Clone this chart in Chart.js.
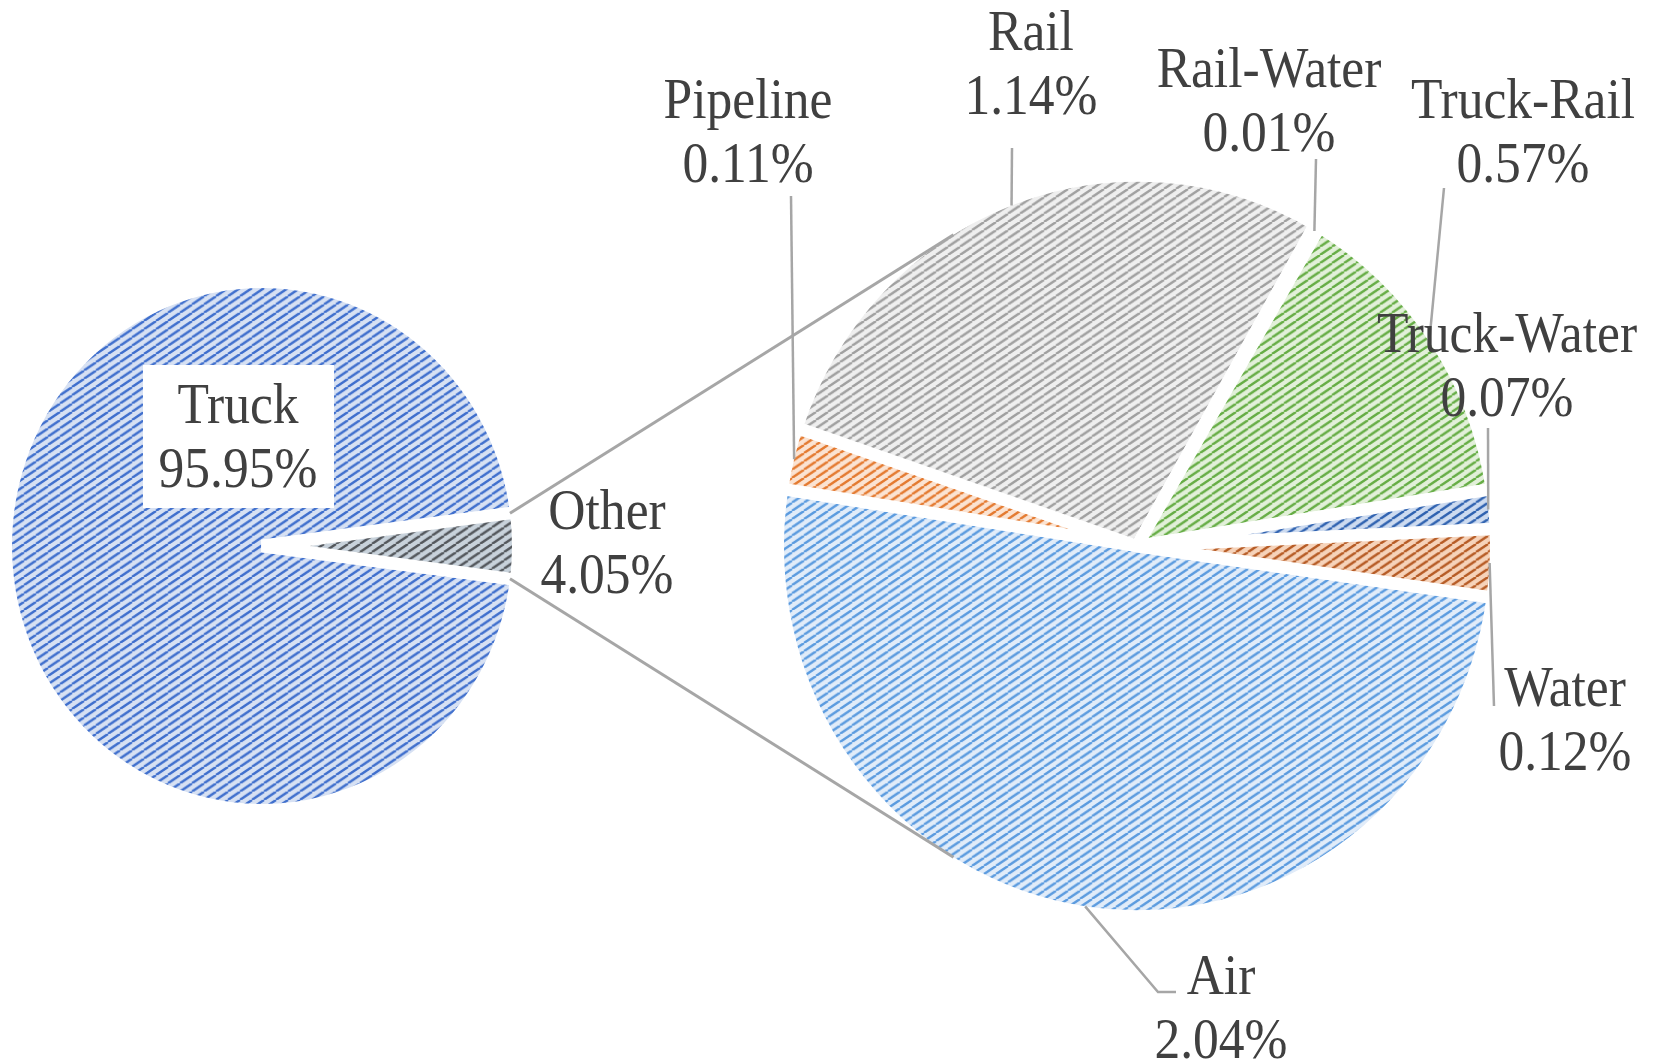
<!DOCTYPE html>
<html>
<head>
<meta charset="utf-8">
<script src="https://cdn.jsdelivr.net/npm/chart.js@4.4.1/dist/chart.umd.min.js"></script>
<style>
  html, body { margin: 0; padding: 0; background: #ffffff; }
  #wrap { position: relative; width: 1658px; height: 1064px; overflow: hidden; }
  canvas { position: absolute; left: 0; top: 0; }
</style>
</head>
<body>
<div id="wrap">
  <canvas id="mainPie" width="1658" height="1064"></canvas>
  <canvas id="otherPie" width="1658" height="1064"></canvas>
</div>
<script>
// ---------------- DATA ----------------
const mainCategories = ['Truck', 'Other'];
const mainValues = [95.95, 4.05];
const otherCategories = ['Air', 'Pipeline', 'Rail', 'Rail-Water', 'Truck-Rail', 'Truck-Water', 'Water'];
const otherValues = [2.04, 0.11, 1.14, 0.01, 0.57, 0.07, 0.12];

// ---------------- STYLE ----------------
const mainColors = [['#d7e1f3', '#3f6fcd'], ['#c8d2db', '#53575c']];
const otherColors = [
  ['#e1ecf9', '#5b9bdf'],  // Air
  ['#fbe3d2', '#e47a30'],  // Pipeline
  ['#efefef', '#a0a0a0'],  // Rail
  ['#fff0c2', '#e6ac00'],  // Rail-Water
  ['#e2f0d9', '#66ad45'],  // Truck-Rail
  ['#cddbf0', '#2f62b0'],  // Truck-Water
  ['#f6d3ba', '#b65b25']   // Water
];
const TEXT_COLOR = '#404040';
const LINE_COLOR = '#a6a6a6';
const FONT = '56px "Liberation Serif", "Times New Roman", serif';
const SCALE_X = 0.92;
const LINE_H = 64;
const BORDER = 12;
const SY = 1.032;              // slight vertical stretch of the pies

// layout (pixels)
const W = 1658, H = 1064;
const mainCenter = [262, 546], mainR = 250;
const otherCenter = [1137, 546], otherR = 353;
// label anchors: [centerX, firstBaseline]
const mainLabelPos = [[238, 423], [607, 529]];
const otherLabelPos = [[1221, 994], [748, 118], [1031, 50], [1269, 87], [1523, 118], [1507, 352], [1565, 706]];
// leader line end points (from slice edge towards the label)
const otherLeaderEnds = [
  [[1158, 992], [1176, 992]],
  [[791, 196]],
  [[1012, 148]],
  [[1316, 159]],
  [[1444, 188]],
  [[1488, 428]],
  [[1494, 706]]
];

function makePattern(bg, fg) {
  const w = 12, h = 8;
  const c = document.createElement('canvas');
  c.width = w; c.height = h;
  const x = c.getContext('2d');
  x.fillStyle = bg; x.fillRect(0, 0, w, h);
  x.strokeStyle = fg; x.lineWidth = 2.3;
  for (const dx of [-w, 0, w]) {
    x.beginPath(); x.moveTo(dx, h); x.lineTo(dx + w, 0); x.stroke();
  }
  return x.createPattern(c, 'repeat');
}

function drawLabel(ctx, lines, cx, baseline) {
  ctx.save();
  ctx.font = FONT;
  ctx.fillStyle = TEXT_COLOR;
  ctx.textAlign = 'center';
  ctx.textBaseline = 'alphabetic';
  lines.forEach((t, i) => {
    ctx.save();
    ctx.translate(cx, baseline + i * LINE_H);
    ctx.scale(SCALE_X, 1);
    ctx.fillText(t, 0, 0);
    ctx.restore();
  });
  ctx.restore();
}

function stretchPlugin(id) {
  return {
    id: id,
    beforeDatasetsDraw(chart) {
      const a = chart.getDatasetMeta(0).data[0];
      chart.ctx.save();
      chart.ctx.translate(a.x, a.y);
      chart.ctx.scale(1, SY);
      chart.ctx.translate(-a.x, -a.y);
    },
    afterDatasetsDraw(chart) {
      chart.ctx.restore();
    }
  };
}

// point on the (stretched) rim of an arc element
function rimPoint(a, ang, r) {
  return [a.x + r * Math.cos(ang), a.y + SY * r * Math.sin(ang)];
}

const pct = v => v.toFixed(2) + '%';
const sum = a => a.reduce((s, v) => s + v, 0);

// ---------------- MAIN PIE ----------------
const mainPie = new Chart(document.getElementById('mainPie'), {
  type: 'pie',
  data: {
    labels: mainCategories,
    datasets: [{
      data: mainValues,
      backgroundColor: mainColors.map(c => makePattern(c[0], c[1])),
      borderColor: '#ffffff',
      borderWidth: BORDER
    }]
  },
  options: {
    responsive: false,
    devicePixelRatio: 1,
    animation: false,
    events: [],
    radius: mainR + BORDER / 2,
    rotation: 90 + (mainValues[1] / sum(mainValues)) * 180,
    layout: { padding: { left: 0, top: 2 * mainCenter[1] - H, right: W - 2 * mainCenter[0], bottom: 0 } },
    plugins: { legend: { display: false }, tooltip: { enabled: false } }
  },
  plugins: [stretchPlugin('stretchMain'), {
    id: 'mainLabels',
    afterDatasetsDraw(chart) {
      const ctx = chart.ctx;
      const [tx, ty] = mainLabelPos[0];
      ctx.save();
      ctx.fillStyle = '#ffffff';
      ctx.fillRect(tx - 95, ty - 58, 191, 143);
      ctx.restore();
      mainCategories.forEach((name, i) => {
        drawLabel(ctx, [name, pct(mainValues[i])], mainLabelPos[i][0], mainLabelPos[i][1]);
      });
    }
  }]
});

// ---------------- SECONDARY PIE ----------------
const otherPie = new Chart(document.getElementById('otherPie'), {
  type: 'pie',
  data: {
    labels: otherCategories,
    datasets: [{
      data: otherValues,
      backgroundColor: otherColors.map(c => makePattern(c[0], c[1])),
      borderColor: '#ffffff',
      borderWidth: BORDER
    }]
  },
  options: {
    responsive: false,
    devicePixelRatio: 1,
    animation: false,
    events: [],
    radius: otherR + BORDER / 2,
    rotation: 98,
    layout: { padding: { left: 2 * otherCenter[0] - W, top: 2 * otherCenter[1] - H, right: 0, bottom: 0 } },
    plugins: { legend: { display: false }, tooltip: { enabled: false } }
  },
  plugins: [stretchPlugin('stretchOther'), {
    id: 'connectorsAndLabels',
    afterDatasetsDraw(chart) {
      const ctx = chart.ctx;
      const arcs = chart.getDatasetMeta(0).data;

      // connector lines from the "Other" slice to the secondary pie (tangents)
      const other = mainPie.getDatasetMeta(0).data[1];
      const R1 = other.outerRadius - BORDER / 2;
      const a0 = arcs[0];
      const cx = a0.x, cy = a0.y, r = a0.outerRadius - BORDER / 2;
      const corners = [other.startAngle, other.endAngle].map(ang => rimPoint(other, ang, R1));
      ctx.save();
      ctx.strokeStyle = LINE_COLOR;
      ctx.lineWidth = 3;
      corners.forEach((p, k) => {
        const dx = p[0] - cx, dy = (p[1] - cy) / SY;
        const d = Math.hypot(dx, dy);
        const phi = Math.atan2(dy, dx);
        const alpha = Math.acos(r / d);
        const ang = k === 0 ? phi + alpha : phi - alpha;
        const t = rimPoint(a0, ang, r);
        ctx.beginPath();
        ctx.moveTo(p[0], p[1]);
        ctx.lineTo(t[0], t[1]);
        ctx.stroke();
      });

      // leader lines
      ctx.lineWidth = 2.5;
      arcs.forEach((a, i) => {
        const mid = (a.startAngle + a.endAngle) / 2;
        const s = rimPoint(a, mid, a.outerRadius - BORDER / 2);
        ctx.beginPath();
        ctx.moveTo(s[0], s[1]);
        otherLeaderEnds[i].forEach(p => ctx.lineTo(p[0], p[1]));
        ctx.stroke();
      });
      ctx.restore();

      otherCategories.forEach((name, i) => {
        drawLabel(ctx, [name, pct(otherValues[i])], otherLabelPos[i][0], otherLabelPos[i][1]);
      });
    }
  }]
});
</script>
</body>
</html>
